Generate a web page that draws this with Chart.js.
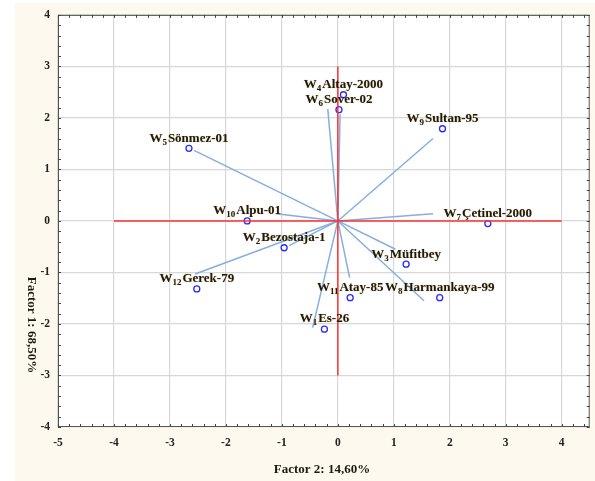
<!DOCTYPE html>
<html>
<head>
<meta charset="utf-8">
<script src="https://cdn.jsdelivr.net/npm/chart.js@4.4.1/dist/chart.umd.min.js"></script>
<style>
  html, body { margin: 0; padding: 0; background: #ffffff; }
  #wrap { width: 595px; height: 481px; }
</style>
</head>
<body>
<div id="wrap"><canvas id="biplot" width="595" height="481"></canvas></div>
<script>
// genotypes (W number, name), biplot marker positions and vector tips
const genoNo = [1, 2, 3, 4, 5, 6, 7, 8, 9, 10, 11, 12];
const genoName = ["Es-26", "Bezostaja-1", "Müfitbey", "Altay-2000", "Sönmez-01", "Sover-02",
  "Çetinel-2000", "Harmankaya-99", "Sultan-95", "Alpu-01", "Atay-85", "Gerek-79"];
const pointX = [-0.24, -0.96, 1.22, 0.10, -2.66, 0.02, 2.68, 1.82, 1.87, -1.62, 0.22, -2.52];
const pointY = [-2.10, -0.52, -0.84, 2.45, 1.41, 2.16, -0.05, -1.49, 1.79, 0.00, -1.49, -1.32];
const vecX = [-0.45, -0.87, 1.03, 0.04, -2.57, -0.18, 1.70, 1.54, 1.70, -1.10, 0.21, -2.55];
const vecY = [-2.07, -0.48, -0.55, 2.07, 1.37, 2.17, 0.14, -1.55, 1.60, 0.14, -1.10, -1.03];

// red reference axes
const hAxisX = [-4, 4];
const vAxisY = [-3, 3];

const xTicks = [-5, -4, -3, -2, -1, 0, 1, 2, 3, 4];
const yTicks = [-4, -3, -2, -1, 0, 1, 2, 3, 4];

const xTitle = "Factor 2: 14,60%";
const yTitle = "Factor 1: 68,50%";

const SERIF = "'Liberation Serif', 'DejaVu Serif', serif";
const CREAM = "#fef9ee";

const vectorSets = genoNo.map((n, i) => ({
  label: "v" + n,
  data: [{ x: 0, y: 0 }, { x: vecX[i], y: vecY[i] }],
  showLine: true,
  borderColor: "#86aee0",
  borderWidth: 1.5,
  pointRadius: 0,
}));

const redSets = [
  { label: "h0", data: hAxisX.map((x) => ({ x: x, y: 0 })) },
  { label: "v0", data: vAxisY.map((y) => ({ x: 0, y: y })) },
].map((d) => Object.assign(d, {
  showLine: true, borderColor: "#ff3030", borderWidth: 1.5, pointRadius: 0,
}));

const pointSet = {
  label: "genotypes",
  data: pointX.map((x, i) => ({ x: x, y: pointY[i] })),
  pointRadius: 3,
  pointBorderWidth: 1.3,
  pointBorderColor: "#2a2aff",
  pointBackgroundColor: "#ffffff",
};

const frame = {
  id: "frame",
  beforeDraw(chart) {
    const { ctx, chartArea: a } = chart;
    ctx.save();
    ctx.fillStyle = CREAM;
    ctx.fillRect(15, 3, chart.width - 15, chart.height - 3);
    ctx.fillStyle = "#ffffff";
    ctx.fillRect(a.left, a.top, a.right - a.left, a.bottom - a.top);
    ctx.restore();
  },
  afterDatasetsDraw(chart) {
    const { ctx } = chart;
    const meta = chart.getDatasetMeta(chart.data.datasets.indexOf(pointSet));
    ctx.save();
    ctx.fillStyle = "#1e1a10";
    ctx.shadowColor = "rgba(190,160,70,0.55)";
    ctx.shadowBlur = 1.5;
    ctx.textBaseline = "middle";
    meta.data.forEach((el, i) => {
      const big = "bold 13px " + SERIF;
      const small = "bold 9px " + SERIF;
      ctx.font = big;
      const wW = ctx.measureText("W").width;
      const wName = ctx.measureText(genoName[i]).width;
      ctx.font = small;
      const wSub = ctx.measureText(String(genoNo[i])).width + 1;
      const total = wW + wSub + wName;
      let x = el.x - total / 2;
      const y = el.y - 10;
      ctx.font = big;
      ctx.fillText("W", x, y);
      ctx.font = small;
      ctx.fillText(String(genoNo[i]), x + wW, y + 4);
      ctx.font = big;
      ctx.fillText(genoName[i], x + wW + wSub, y);
    });
    ctx.restore();
  },
  afterDraw(chart) {
    const { ctx, chartArea: a, scales } = chart;
    ctx.save();
    // box
    ctx.strokeStyle = "#555555";
    ctx.lineWidth = 1;
    ctx.strokeRect(a.left + 0.5, a.top + 0.5, a.right - a.left - 1, a.bottom - a.top - 1);
    // inner minor ticks
    ctx.strokeStyle = "#444444";
    ctx.beginPath();
    for (let v = -5; v <= 4.5 + 1e-9; v += 0.2) {
      const px = Math.round(scales.x.getPixelForValue(v)) + 0.5;
      ctx.moveTo(px, a.bottom); ctx.lineTo(px, a.bottom - 3);
      ctx.moveTo(px, a.top); ctx.lineTo(px, a.top + 3);
    }
    for (let v = -4; v <= 4 + 1e-9; v += 0.2) {
      const py = Math.round(scales.y.getPixelForValue(v)) + 0.5;
      ctx.moveTo(a.left, py); ctx.lineTo(a.left + 3, py);
      ctx.moveTo(a.right, py); ctx.lineTo(a.right - 3, py);
    }
    ctx.stroke();
    // axis titles
    ctx.fillStyle = "#1e1a10";
    ctx.font = "bold 13px " + SERIF;
    ctx.textAlign = "center";
    ctx.textBaseline = "middle";
    ctx.fillText(xTitle, 322, 470);
    ctx.translate(31, 325);
    ctx.rotate(Math.PI / 2);
    ctx.fillText(yTitle, 0, 0);
    ctx.restore();
  },
};

const tickFont = { family: SERIF, size: 11.5, weight: "bold" };

new Chart(document.getElementById("biplot"), {
  type: "scatter",
  data: { datasets: [...redSets, ...vectorSets, pointSet] },
  plugins: [frame],
  options: {
    responsive: false,
    animation: false,
    layout: { padding: { top: 13, right: 2, left: 0, bottom: 0 } },
    plugins: { legend: { display: false }, tooltip: { enabled: false } },
    scales: {
      x: {
        type: "linear",
        min: -5,
        max: 4.5,
        afterBuildTicks: (s) => { s.ticks = xTicks.map((v) => ({ value: v })); },
        afterFit: (s) => { s.height = 54; },
        grid: { color: "#d8d8d8", lineWidth: 1.2, drawTicks: false },
        border: { display: false },
        ticks: { color: "#222222", font: tickFont, padding: 9 },
      },
      y: {
        type: "linear",
        min: -4,
        max: 4,
        afterBuildTicks: (s) => { s.ticks = yTicks.map((v) => ({ value: v })); },
        afterFit: (s) => { s.width = 58; },
        grid: { color: "#d8d8d8", lineWidth: 1.2, drawTicks: false },
        border: { display: false },
        ticks: { color: "#222222", font: tickFont, padding: 8 },
      },
    },
  },
});
</script>
</body>
</html>
